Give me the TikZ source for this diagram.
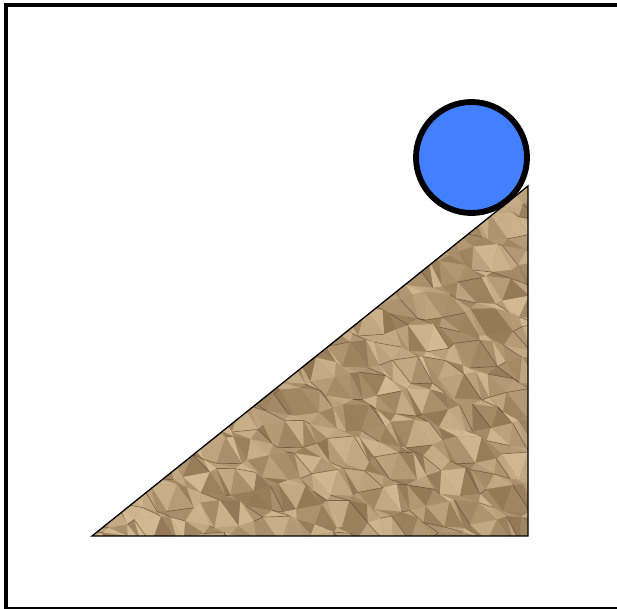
\documentclass[tikz,border=0pt]{standalone}
\usepackage{tikz}
\usetikzlibrary{calc}

\definecolor{ballblue}{RGB}{66,128,255}
\definecolor{paperdark}{RGB}{100,70,40}
\definecolor{paperlight}{RGB}{234,210,170}

\begin{document}
\begin{tikzpicture}[
  x=0.03cm, y=-0.03cm,
  frame/.style={draw=black, line width=3.4pt},
  ball/.style={circle, draw=black, line width=5pt, fill=ballblue, minimum size=111*0.03cm, inner sep=0pt},
  crease/.style={paperdark!75!black, line width=0.55pt, line cap=round},
]
\useasboundingbox (0,0) rectangle (617,608);
% ---------- frame ----------
\draw[frame] (660,5) -- (6,5) -- (6,609) -- (660,609);

% ---------- wedge with paper texture ----------
\coordinate (foot) at (92,536);
\coordinate (corner) at (528,536);
\coordinate (tip) at (528,186);
\begin{scope}
  \clip (foot) -- (corner) -- (tip) -- cycle;
  \fill[paperdark!45!paperlight] (92,186) rectangle (528,536);
  \pgfmathsetseed{11}
  \foreach \i in {-1,...,28} {
    \foreach \j in {-1,...,22} {
      \pgfmathtruncatemacro\ia{\i+1}
      \pgfmathtruncatemacro\jb{\j+1}
      \coordinate (p00) at ({92+16*\i+6*sin(\i*137+\j*251)},{186+16*\j+6*cos(\i*311+\j*173)});
      \coordinate (p10) at ({92+16*\ia+6*sin(\ia*137+\j*251)},{186+16*\j+6*cos(\ia*311+\j*173)});
      \coordinate (p01) at ({92+16*\i+6*sin(\i*137+\jb*251)},{186+16*\jb+6*cos(\i*311+\jb*173)});
      \coordinate (p11) at ({92+16*\ia+6*sin(\ia*137+\jb*251)},{186+16*\jb+6*cos(\ia*311+\jb*173)});
      \pgfmathtruncatemacro\ta{18+48*rnd}
      \pgfmathtruncatemacro\tb{18+48*rnd}
      \fill[paperdark!\ta!paperlight] (p00) -- (p10) -- (p11) -- cycle;
      \fill[paperdark!\tb!paperlight] (p00) -- (p11) -- (p01) -- cycle;
      \pgfmathsetmacro\ca{rnd<0.3 ? 0.55 : 0}
      \pgfmathsetmacro\cb{rnd<0.25 ? 0.55 : 0}
      \draw[crease, opacity=\ca] (p00) -- (p10);
      \draw[crease, opacity=\cb] (p00) -- (p11);
    }
  }
\end{scope}
\draw[black, line width=1.1pt, line join=miter] (foot) -- (corner) -- (tip) -- cycle;

% ---------- ball ----------
\node[ball] (ball) at (471.5,157.5) {};
\end{tikzpicture}
\end{document}
